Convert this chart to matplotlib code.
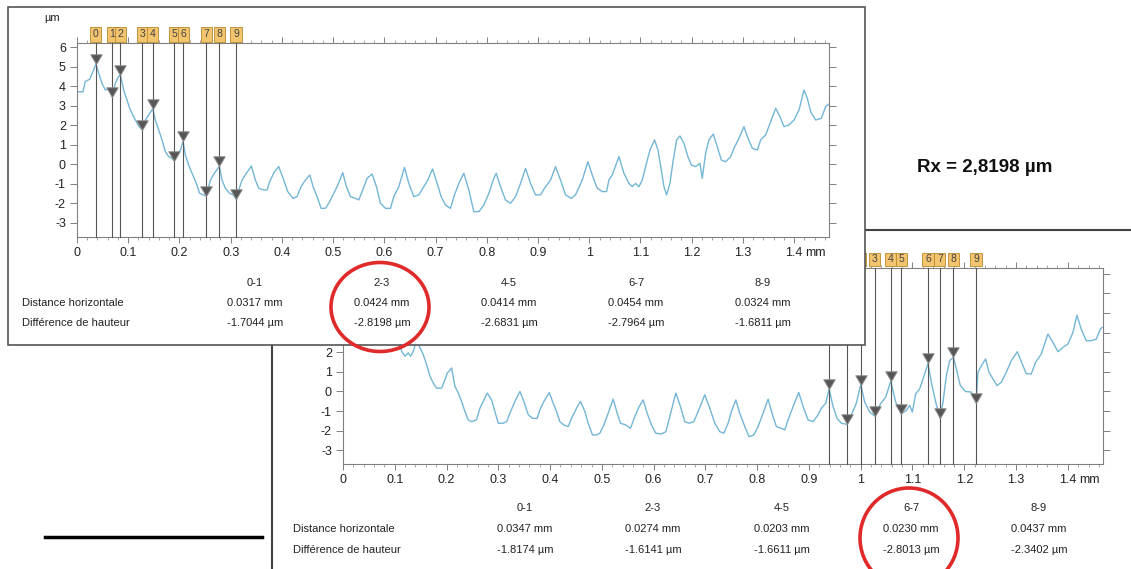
import numpy as np
import matplotlib
matplotlib.use("Agg")
import matplotlib.pyplot as plt
from matplotlib.patches import Rectangle, Ellipse
from matplotlib.lines import Line2D
from matplotlib.path import Path
from matplotlib.ticker import MultipleLocator, FuncFormatter

plt.rcParams["font.family"] = ["Liberation Sans", "DejaVu Sans"]

W, H = 1131, 569

# ---------------- profile data (x in mm, height in µm) ----------------
top_x = [0.000, 0.0117, 0.0162, 0.0247, 0.0299, 0.0370, 0.0423, 0.0488, 0.0553, 0.0620,
         0.0687, 0.0748, 0.0800, 0.0846, 0.0911, 0.0976, 0.1028, 0.1074, 0.1139, 0.1204,
         0.1270, 0.1334, 0.1399, 0.1480, 0.1529, 0.1594, 0.1660, 0.1725, 0.1790, 0.1855,
         0.1894, 0.1960, 0.2018, 0.2070, 0.2115, 0.2180, 0.2245, 0.2330, 0.2395, 0.2460,
         0.2524, 0.2604, 0.2682, 0.2780, 0.2831, 0.2896, 0.2981, 0.3050, 0.3104, 0.3157,
         0.3222, 0.3307, 0.3404, 0.3482, 0.3548, 0.3645, 0.3710, 0.3762, 0.3854, 0.3938,
         0.4036, 0.4114, 0.4218, 0.4296, 0.4374, 0.4459, 0.4544, 0.4609, 0.4687, 0.4765,
         0.4850, 0.4915, 0.4980, 0.5077, 0.5188, 0.5260, 0.5338, 0.5436, 0.5501, 0.5566,
         0.5663, 0.5761, 0.5846, 0.5924, 0.6021, 0.6119, 0.6184, 0.6282, 0.6393, 0.6477,
         0.6575, 0.6672, 0.6770, 0.6848, 0.6939, 0.7031, 0.7109, 0.7193, 0.7291, 0.7369,
         0.7454, 0.7551, 0.7649, 0.7747, 0.7844, 0.7942, 0.8040, 0.8124, 0.8183, 0.8268,
         0.8365, 0.8463, 0.8561, 0.8658, 0.8756, 0.8854, 0.8951, 0.9049, 0.9146, 0.9244,
         0.9342, 0.9439, 0.9537, 0.9648, 0.9732, 0.9863, 0.9973, 1.0058, 1.0156, 1.0253,
         1.0338, 1.0383, 1.0449, 1.0579, 1.0676, 1.0774, 1.0839, 1.0904, 1.0969, 1.1035,
         1.1100, 1.1184, 1.1275, 1.1341, 1.1406, 1.1458, 1.1510, 1.1575, 1.1640, 1.1705,
         1.1770, 1.1848, 1.1926, 1.1992, 1.2076, 1.2161, 1.2206, 1.2271, 1.2336, 1.2421,
         1.2499, 1.2578, 1.2662, 1.2760, 1.2825, 1.2922, 1.3020, 1.3085, 1.3183, 1.3281,
         1.3346, 1.3443, 1.3528, 1.3639, 1.3723, 1.3801, 1.3899, 1.3997, 1.4094, 1.4192,
         1.4257, 1.4322, 1.4420, 1.4531, 1.4615, 1.4680]
top_z = [3.72, 3.72, 4.24, 4.36, 4.67, 5.14, 4.67, 4.15, 3.81, 3.90,
         3.44, 4.15, 4.45, 4.60, 3.81, 3.30, 2.87, 2.61, 2.27, 1.96,
         1.78, 2.27, 2.53, 2.85, 2.27, 1.76, 1.25, 0.65, 0.39, 0.31,
         0.17, 0.55, 0.73, 1.18, 0.48, -0.04, -0.46, -0.98, -1.49, -1.57,
         -1.62, -0.81, -0.46, -0.10, -0.81, -1.23, -1.49, -1.57, -1.78, -1.32,
         -0.81, -0.46, -0.09, -0.81, -1.23, -1.32, -1.32, -0.89, -0.38, -0.12,
         -0.81, -1.40, -1.75, -1.66, -1.15, -0.81, -0.55, -1.15, -1.66, -2.26,
         -2.26, -2.00, -1.66, -1.15, -0.43, -1.15, -1.66, -1.75, -1.83, -1.40,
         -0.72, -0.50, -1.15, -2.00, -2.26, -2.26, -1.66, -1.15, -0.16, -0.98,
         -1.66, -1.57, -1.15, -0.81, -0.24, -0.98, -1.66, -2.09, -2.26, -1.57,
         -0.98, -0.46, -1.32, -2.43, -2.43, -2.09, -1.49, -0.81, -0.46, -1.15,
         -1.83, -2.00, -1.66, -0.98, -0.21, -0.98, -1.57, -1.57, -1.15, -0.81,
         -0.12, -0.81, -1.57, -1.75, -1.57, -0.81, 0.13, -0.55, -1.23, -1.40,
         -1.40, -0.81, -0.55, 0.39, -0.46, -0.98, -1.15, -0.98, -1.15, -0.81,
         -0.12, 0.73, 1.25, 0.73, -0.29, -1.15, -1.57, -0.98, 0.22, 1.25,
         1.45, 1.08, 0.39, -0.04, -0.12, 0.05, -0.72, 0.56, 1.25, 1.55,
         0.90, 0.22, 0.13, 0.39, 0.82, 1.33, 1.93, 1.42, 0.82, 0.73,
         1.25, 1.50, 2.10, 2.87, 2.44, 1.93, 2.02, 2.27, 2.78, 3.81,
         3.38, 2.70, 2.27, 2.36, 2.96, 3.09]

bot_x = [0.000, 0.037, 0.069, 0.085, 0.100, 0.108, 0.1133, 0.1197, 0.1261, 0.1306,
         0.1358, 0.1420, 0.1519, 0.1551, 0.1615, 0.1680, 0.1744, 0.1808, 0.1905, 0.1969,
         0.2014, 0.2098, 0.2162, 0.2227, 0.2291, 0.2355, 0.2420, 0.2484, 0.2580, 0.2645,
         0.2709, 0.2786, 0.2870, 0.2934, 0.2999, 0.3095, 0.3160, 0.3224, 0.3320, 0.3417,
         0.3494, 0.3578, 0.3662, 0.3752, 0.3803, 0.3880, 0.3983, 0.4060, 0.4125, 0.4189,
         0.4266, 0.4350, 0.4414, 0.4511, 0.4588, 0.4672, 0.4736, 0.4820, 0.4897, 0.4961,
         0.5039, 0.5122, 0.5219, 0.5296, 0.5360, 0.5463, 0.5553, 0.5637, 0.5721, 0.5798,
         0.5875, 0.5959, 0.6042, 0.6152, 0.6236, 0.6313, 0.6429, 0.6519, 0.6602, 0.6686,
         0.6776, 0.6860, 0.6988, 0.7085, 0.7181, 0.7278, 0.7355, 0.7439, 0.7503, 0.7587,
         0.7664, 0.7761, 0.7844, 0.7934, 0.8018, 0.8114, 0.8211, 0.8295, 0.8372, 0.8469,
         0.8533, 0.8597, 0.8694, 0.8803, 0.8887, 0.8983, 0.9080, 0.9176, 0.9241, 0.9324,
         0.9390, 0.9466, 0.9543, 0.9627, 0.9737, 0.9820, 0.9916, 1.0000, 1.0077, 1.0174,
         1.0274, 1.0380, 1.0483, 1.0580, 1.0676, 1.0783, 1.0882, 1.0946, 1.0997, 1.1062,
         1.1139, 1.1236, 1.1300, 1.1364, 1.1448, 1.1530, 1.1590, 1.1654, 1.1718, 1.1790,
         1.1847, 1.1924, 1.2027, 1.2136, 1.2227, 1.2265, 1.2349, 1.2413, 1.2478, 1.2555,
         1.2632, 1.2716, 1.2812, 1.2909, 1.3024, 1.3121, 1.3198, 1.3295, 1.3378, 1.3488,
         1.3616, 1.3713, 1.3810, 1.3906, 1.4003, 1.4099, 1.4176, 1.4260, 1.4357, 1.4453,
         1.4550, 1.4627, 1.4665]
bot_z = [3.70, 5.10, 3.40, 4.60, 3.00, 2.50, 2.05, 1.80, 1.97, 1.80,
         2.05, 2.60, 2.05, 1.88, 1.37, 0.77, 0.43, 0.17, 0.17, 0.60,
         0.94, 1.20, 0.26, -0.08, -0.51, -1.02, -1.45, -1.54, -1.45, -0.85,
         -0.51, -0.08, -0.43, -1.02, -1.62, -1.62, -1.54, -1.11, -0.51, 0.00,
         -0.51, -1.19, -1.37, -1.37, -0.94, -0.51, -0.05, -0.60, -1.02, -1.54,
         -1.71, -1.79, -1.37, -0.85, -0.51, -1.02, -1.62, -2.22, -2.22, -2.13,
         -1.71, -1.11, -0.39, -1.11, -1.62, -1.71, -1.88, -1.28, -0.77, -0.43,
         -1.11, -1.71, -2.13, -2.17, -2.05, -1.28, -0.08, -0.77, -1.54, -1.62,
         -1.54, -1.02, -0.17, -0.85, -1.62, -2.05, -2.13, -1.62, -1.02, -0.43,
         -1.11, -1.79, -2.31, -2.22, -1.79, -1.11, -0.39, -1.19, -1.79, -1.88,
         -1.96, -1.45, -0.77, -0.05, -0.77, -1.45, -1.54, -1.19, -0.85, -0.60,
         0.14, -0.77, -1.37, -1.62, -1.68, -1.19, -0.60, 0.35, -0.54, -1.05,
         -1.26, -0.63, -0.29, 0.52, -0.54, -1.14, -0.96, -0.71, -1.05, -0.12,
         0.14, 0.90, 1.43, 0.47, -0.54, -1.37, -0.54, 0.81, 1.57, 1.75,
         1.15, 0.30, 0.00, -0.03, -0.59, 0.98, 1.40, 1.66, 0.98, 0.64,
         0.30, 0.47, 0.98, 1.57, 2.03, 1.40, 0.90, 0.90, 1.49, 1.91,
         2.93, 2.50, 2.03, 2.25, 2.42, 3.01, 3.89, 3.18, 2.59, 2.59,
         2.67, 3.18, 3.27]

# ---------------- marker pairs and measured values ----------------
pair_names = ["0-1", "2-3", "4-5", "6-7", "8-9"]

top_start_x = [0.0370, 0.0846, 0.1480, 0.2070, 0.2780]
top_start_z = [5.14, 4.60, 2.85, 1.18, -0.10]
top_dist = [0.0317, 0.0424, 0.0414, 0.0454, 0.0324]
top_dh = [-1.7044, -2.8198, -2.6831, -2.7964, -1.6811]

bot_start_x = [0.9390, 1.0000, 1.0580, 1.1300, 1.1790]
bot_start_z = [0.14, 0.35, 0.52, 1.43, 1.75]
bot_dist = [0.0347, 0.0274, 0.0203, 0.0230, 0.0437]
bot_dh = [-1.8174, -1.6141, -1.6611, -2.8013, -2.3402]

rx_value = 2.8198

x_ticks = [0, 0.1, 0.2, 0.3, 0.4, 0.5, 0.6, 0.7, 0.8, 0.9, 1.0, 1.1, 1.2, 1.3, 1.4]
y_ticks = [-3, -2, -1, 0, 1, 2, 3, 4, 5, 6]

PROFILE_COLOR = "#74b6d6"
GRID_GREY = "#808080"
TEXT = "#222222"

# downward triangle with its tip on the marker point
tri = Path([(-1.0, 1.7), (1.0, 1.7), (0.0, 0.0), (-1.0, 1.7)],
           [Path.MOVETO, Path.LINETO, Path.LINETO, Path.CLOSEPOLY])


def fx(px):
    return px / W


def fy(py):
    return 1 - py / H


def marker_points(sx, sz, dist, dh):
    xs, zs = [], []
    for x0, z0, d, h in zip(sx, sz, dist, dh):
        xs += [x0, x0 + d]
        zs += [z0, z0 + h]
    return np.array(xs), np.array(zs)


def style_axes(ax, ylim):
    ax.set_xlim(0, 1.468)
    ax.set_ylim(*ylim)
    ax.set_facecolor("white")
    for s in ax.spines.values():
        s.set_color(GRID_GREY)
        s.set_linewidth(0.8)
    ax.set_xticks(x_ticks)
    ax.xaxis.set_minor_locator(MultipleLocator(0.02))
    ax.xaxis.set_major_formatter(FuncFormatter(lambda v, p: "%g" % round(v, 2)))
    ax.set_yticks(y_ticks)
    ax.yaxis.set_major_formatter(FuncFormatter(lambda v, p: "%d" % v))
    ax.xaxis.set_ticks_position("both")
    ax.yaxis.set_ticks_position("both")
    ax.tick_params(axis="x", which="major", direction="out", length=4, width=0.7,
                   color=GRID_GREY, labelsize=9, labelcolor=TEXT, pad=3)
    ax.tick_params(axis="x", which="minor", direction="out", length=2, width=0.5,
                   color=GRID_GREY, top=True, bottom=True)
    ax.tick_params(axis="y", which="major", direction="out", length=5, width=0.7,
                   color=GRID_GREY, labelsize=9, labelcolor=TEXT, pad=3)
    ax.annotate("mm", xy=(1.4, 0), xycoords=ax.get_xaxis_transform(),
                xytext=(8, -7), textcoords="offset points",
                ha="left", va="top", fontsize=9, color=TEXT, annotation_clip=False)


def draw_markers(ax, mx, mz, box_y0, box_y1):
    trans = ax.get_xaxis_transform()
    box_w = 0.0215
    for i, (x, z) in enumerate(zip(mx, mz)):
        ax.plot([x, x], [0, 1.0], transform=trans, color="#555555", lw=0.8,
                clip_on=False, zorder=3)
        ax.add_patch(Rectangle((x - box_w / 2, box_y0), box_w, box_y1 - box_y0,
                               transform=trans, facecolor="#f2c46d",
                               edgecolor="#b8892e", lw=0.6, clip_on=False, zorder=4))
        ax.text(x, (box_y0 + box_y1) / 2, str(i), transform=trans, ha="center",
                va="center", fontsize=7.5, color="#444444", clip_on=False, zorder=5)
    ax.plot(mx, mz, linestyle="none", marker=tri, markersize=14,
            markerfacecolor="#565656", markeredgecolor="#8c8c8c",
            markeredgewidth=0.7, zorder=6)


def draw_table(x_label, x_cols, y_rows, dist, dh):
    fig.text(fx(x_label), fy(y_rows[1]), "Distance horizontale", ha="left",
             va="center", fontsize=8, color=TEXT)
    fig.text(fx(x_label), fy(y_rows[2]), "Différence de hauteur", ha="left",
             va="center", fontsize=8, color=TEXT)
    for xc, name, d, h in zip(x_cols, pair_names, dist, dh):
        fig.text(fx(xc), fy(y_rows[0]), name, ha="center", va="center",
                 fontsize=8, color=TEXT)
        fig.text(fx(xc), fy(y_rows[1]), f"{d:.4f} mm", ha="center", va="center",
                 fontsize=8, color=TEXT)
        fig.text(fx(xc), fy(y_rows[2]), f"{h:.4f} µm", ha="center", va="center",
                 fontsize=8, color=TEXT)


fig = plt.figure(figsize=(W / 100, H / 100), dpi=100)
fig.patch.set_facecolor("white")

# ---------------- lower report (drawn first, partly covered) ----------------
fig.add_artist(Rectangle((fx(272), fy(590)), fx(1160) - fx(272), fy(230) - fy(590),
                         transform=fig.transFigure, facecolor="white",
                         edgecolor="#444444", lw=1.5, zorder=0.5))

ax2 = fig.add_axes([fx(343), fy(464), fx(1103) - fx(343), fy(268) - fy(464)])
ax2.set_zorder(1)
style_axes(ax2, (-3.7, 6.3))
ax2.plot(bot_x, bot_z, color=PROFILE_COLOR, lw=1.0, zorder=2)
bmx, bmz = marker_points(bot_start_x, bot_start_z, bot_dist, bot_dh)
draw_markers(ax2, bmx, bmz, 1.010, 1.078)
draw_table(293, [525, 653, 782, 911, 1039], [508, 529, 550], bot_dist, bot_dh)

# ---------------- upper report ----------------
fig.add_artist(Rectangle((fx(8), fy(345)), fx(865) - fx(8), fy(7) - fy(345),
                         transform=fig.transFigure, facecolor="white",
                         edgecolor="#555555", lw=1.2, zorder=2))

ax1 = fig.add_axes([fx(77), fy(237), fx(829) - fx(77), fy(43) - fy(237)])
ax1.set_zorder(3)
style_axes(ax1, (-3.73, 6.22))
ax1.plot(top_x, top_z, color=PROFILE_COLOR, lw=1.0, zorder=2)
tmx, tmz = marker_points(top_start_x, top_start_z, top_dist, top_dh)
draw_markers(ax1, tmx, tmz, 1.007, 1.081)
fig.text(fx(52), fy(18), "µm", ha="center", va="center", fontsize=8,
         color=TEXT, zorder=4)
for t in fig.texts:
    t.set_zorder(4)
draw_table(22, [255, 382, 509, 636, 763], [283, 303, 323], top_dist, top_dh)

# ---------------- annotations ----------------
fig.text(fx(985), fy(168), "Rx = " + f"{rx_value:.4f}".replace(".", ",") + " µm",
         ha="center", va="center", fontsize=13.5, fontweight="bold", color="#111111")

fig.add_artist(Line2D([fx(45), fx(262)], [fy(537), fy(537)],
                      transform=fig.transFigure, color="black", lw=2.5, zorder=5))

fig.add_artist(Ellipse((fx(380), fy(307)), 98 / W, 89 / H, transform=fig.transFigure,
                       facecolor="none", edgecolor="#e02a2a", lw=2.6, zorder=10))
fig.add_artist(Ellipse((fx(909), fy(538)), 98 / W, 100 / H, transform=fig.transFigure,
                       facecolor="none", edgecolor="#e02a2a", lw=2.6, zorder=10))

fig.savefig("out.png", dpi=100, facecolor="white")
